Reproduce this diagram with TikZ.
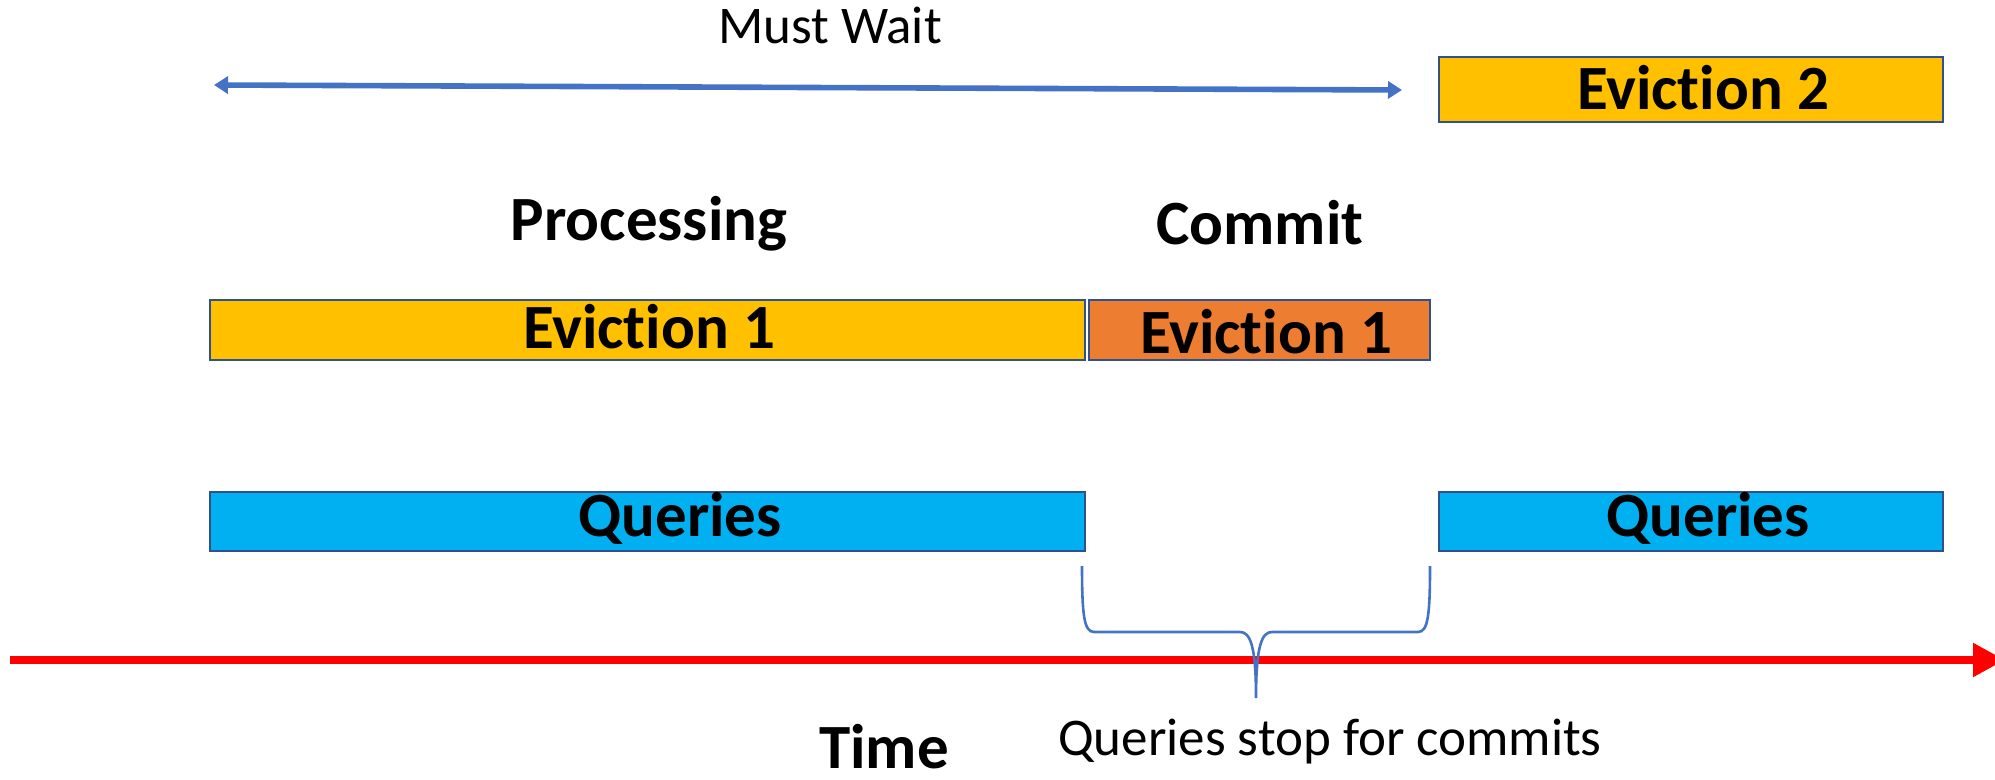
\documentclass[tikz,border=0pt]{standalone}
\usepackage{fontspec}
\setmainfont{Carlito}[Ligatures=NoCommon]
\usetikzlibrary{arrows.meta}
\definecolor{evyellow}{HTML}{FFC000}
\definecolor{evorange}{HTML}{ED7D31}
\definecolor{qblue}{HTML}{00B0F0}
\definecolor{edge}{HTML}{2F528F}
\definecolor{accent}{HTML}{4472C4}
\definecolor{timeline}{HTML}{FF0000}
% keep "t" and "i" as separate glyphs
\newcommand\evword{Evict\kern0pt ion}
\begin{document}
\begin{tikzpicture}[x=0.5pt,y=-0.5pt,
  bar/.style={draw=edge, line width=1pt, inner sep=0pt, outer sep=0pt, anchor=north west},
  big/.style={font=\fontsize{31.5}{36}\selectfont\bfseries, inner sep=0pt, anchor=base},
  note/.style={font=\fontsize{26.5}{32}\selectfont, inner sep=0pt, anchor=base},
]
\useasboundingbox (0,0) rectangle (1995,780);

% bars
\node[bar, fill=evyellow, minimum width=252pt,   minimum height=32.5pt] (ev2)  at (1439,57)  {};
\node[bar, fill=evyellow, minimum width=437.5pt, minimum height=30pt]   (ev1p) at (210,300)  {};
\node[bar, fill=evorange, minimum width=170.5pt, minimum height=30pt]   (ev1c) at (1089,300) {};
\node[bar, fill=qblue,    minimum width=437.5pt, minimum height=29.5pt] (q1)   at (210,492)  {};
\node[bar, fill=qblue,    minimum width=252pt,   minimum height=29.5pt] (q2)   at (1439,492) {};

% bar labels
\node[big] (ev2t)  at (1703,110) {\evword{} 2};
\node[big] (ev1pt) at (649,349)  {\evword{} 1};
\node[big] (ev1ct) at (1266,354) {\evword{} 1};
\node[big] (q1t)   at (680,536)  {Queries};
\node[big] (q2t)   at (1708,536) {Queries};

% phase headings
\node[big] (proc)   at (649,241)  {Processing};
\node[big] (commit) at (1260,245) {Commit};

% waiting span
\coordinate (waitL) at (214,85);
\coordinate (waitR) at (1402,90);
\draw[accent, line width=2.8pt, {Triangle[length=7pt,width=8.5pt]}-{Triangle[length=7pt,width=8.5pt]}] (waitL) -- (waitR);
\node[note] (wait) at (830,44) {Must Wait};

% time axis
\coordinate (t0) at (10,660);
\coordinate (t1) at (2005,660);
\draw[timeline, line width=4pt, -{Triangle[length=16pt,width=16pt]}] (t0) -- (t1);
\node[big] (time) at (884,768) {Time};

% brace under the query gap
\coordinate (bL) at (1082,566);
\coordinate (bR) at (1430,566);
\coordinate (bM) at (1256,698);
\draw[accent, line width=1.3pt]
  (bL) .. controls (1082,615) and (1084,632) .. (1094,632)
  -- (1240,632) .. controls (1250,632) and (1256,645) .. (bM)
  .. controls (1256,645) and (1262,632) .. (1272,632)
  -- (1418,632) .. controls (1428,632) and (1430,615) .. (bR);
\node[note] (stop) at (1330,755) {Queries stop for commits};
\end{tikzpicture}
\end{document}
